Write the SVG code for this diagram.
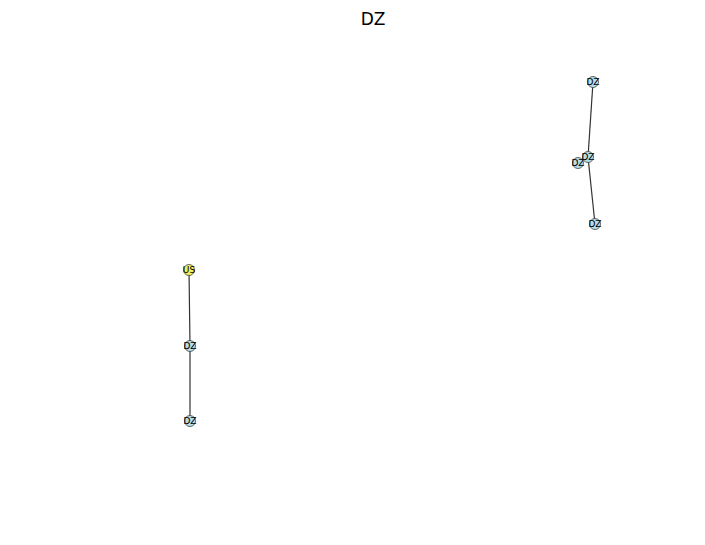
<svg xmlns="http://www.w3.org/2000/svg" width="705" height="545" viewBox="0 0 705 545">
<style>
.n circle{fill:#b8dde8;stroke:#444;stroke-width:0.8}
.n.us circle{fill:#f2f060}
.n text{font-family:"DejaVu Sans",sans-serif;font-size:9px;text-anchor:middle;dominant-baseline:central;fill:#000}
.e line{stroke:#333;stroke-width:1.2}
.t{font-family:"DejaVu Sans",sans-serif;font-size:17px;text-anchor:middle;fill:#000}
</style>
<rect width="705" height="545" fill="#fff"/>
<text class="t" x="373" y="25">DZ</text>
<g id="connectors" class="e">
<line x1="593" y1="82" x2="588" y2="157"/>
<line x1="588" y1="157" x2="595" y2="224"/>
<line x1="189" y1="270" x2="190" y2="346"/>
<line x1="190" y1="346" x2="190" y2="421"/>
</g>
<g id="n1" class="n"><circle cx="593" cy="82" r="5.5"/><text x="593" y="82">DZ</text></g>
<g id="n3" class="n"><circle cx="578" cy="163" r="5.5"/><text x="578" y="163">DZ</text></g>
<g id="n2" class="n"><circle cx="588" cy="157" r="5.5"/><text x="588" y="157">DZ</text></g>
<g id="n4" class="n"><circle cx="595" cy="224" r="5.5"/><text x="595" y="224">DZ</text></g>
<g id="n5" class="n us"><circle cx="189" cy="270" r="5.5"/><text x="189" y="270">US</text></g>
<g id="n6" class="n"><circle cx="190" cy="346" r="5.5"/><text x="190" y="346">DZ</text></g>
<g id="n7" class="n"><circle cx="190" cy="421" r="5.5"/><text x="190" y="421">DZ</text></g>
</svg>
